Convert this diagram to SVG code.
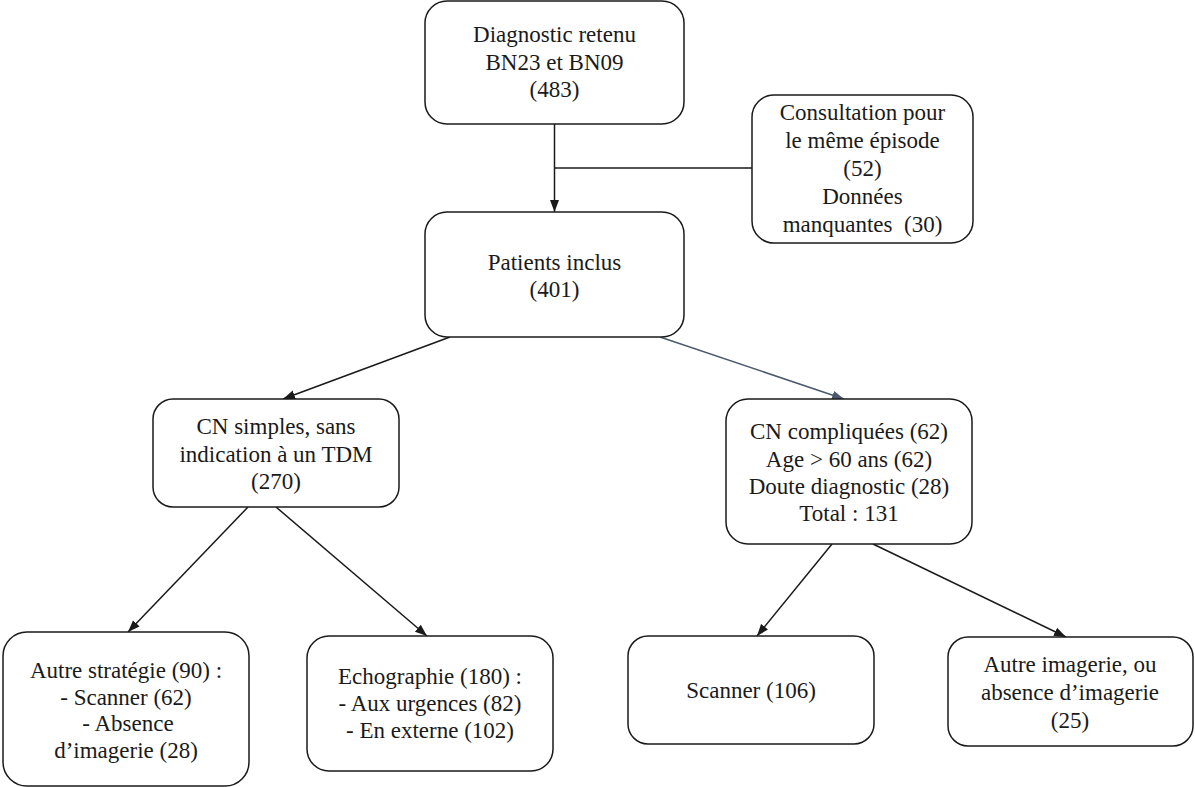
<svg xmlns="http://www.w3.org/2000/svg" width="1195" height="787" viewBox="0 0 1195 787">
<defs>
<style>
.box{fill:#fff;stroke:#1a1a1a;stroke-width:1.5}
.t{font-family:'Liberation Serif','Times New Roman','DejaVu Serif Condensed','DejaVu Serif',serif;font-size:23px;fill:#1a1a1a;text-anchor:middle}
.c{fill:none;stroke:#1a1a1a;stroke-width:1.5}
.cs{fill:none;stroke:#4a5a6e;stroke-width:1.5}
</style>
<marker id="ah" viewBox="0 0 12 10" refX="12" refY="5" markerWidth="12" markerHeight="10" markerUnits="userSpaceOnUse" orient="auto"><path d="M0,0.5 L12,5 L0,9.5 z" fill="#1a1a1a"/></marker>
<marker id="ahs" viewBox="0 0 12 10" refX="12" refY="5" markerWidth="12" markerHeight="10" markerUnits="userSpaceOnUse" orient="auto"><path d="M0,0.5 L12,5 L0,9.5 z" fill="#4a5a6e"/></marker>
</defs>
<rect width="1195" height="787" fill="#fff"/>
<g id="connectors">
<path class="c" d="M554.5,124 L554.5,212" marker-end="url(#ah)"/>
<path class="c" d="M554.5,168 L752,168"/>
<path class="c" d="M450,337 L283,399" marker-end="url(#ah)"/>
<path class="cs" d="M660,337 L844,399" marker-end="url(#ahs)"/>
<path class="c" d="M248,507 L128,632" marker-end="url(#ah)"/>
<path class="c" d="M276,507 L427,636" marker-end="url(#ah)"/>
<path class="c" d="M832,544 L757,636" marker-end="url(#ah)"/>
<path class="c" d="M873,544 L1066,637" marker-end="url(#ah)"/>
</g>
<g id="n1">
<rect class="box" x="425" y="1" width="259" height="123" rx="22"/>
<text class="t" x="554.5" y="42">Diagnostic retenu</text>
<text class="t" x="554.5" y="70">BN23 et BN09</text>
<text class="t" x="554.5" y="97">(483)</text>
</g>
<g id="n2">
<rect class="box" x="752" y="95" width="221" height="148" rx="22"/>
<text class="t" x="862.5" y="120">Consultation pour</text>
<text class="t" x="862.5" y="148">le même épisode</text>
<text class="t" x="862.5" y="176">(52)</text>
<text class="t" x="862.5" y="204">Données</text>
<text class="t" x="862.5" y="232">manquantes&#160; (30)</text>
</g>
<g id="n3">
<rect class="box" x="425" y="212" width="259" height="125" rx="22"/>
<text class="t" x="554.5" y="270">Patients inclus</text>
<text class="t" x="554.5" y="297">(401)</text>
</g>
<g id="n4">
<rect class="box" x="153" y="399" width="246" height="108" rx="20"/>
<text class="t" x="276" y="434">CN simples, sans</text>
<text class="t" x="276" y="462">indication à un TDM</text>
<text class="t" x="276" y="489">(270)</text>
</g>
<g id="n5">
<rect class="box" x="726" y="399" width="246" height="145" rx="22"/>
<text class="t" x="849" y="439">CN compliquées (62)</text>
<text class="t" x="849" y="467">Age &gt; 60 ans (62)</text>
<text class="t" x="849" y="494">Doute diagnostic (28)</text>
<text class="t" x="849" y="521">Total : 131</text>
</g>
<g id="n6">
<rect class="box" x="3" y="632" width="246" height="154" rx="24"/>
<text class="t" x="126" y="678">Autre stratégie (90) :</text>
<text class="t" x="126" y="705">- Scanner (62)</text>
<text class="t" x="128" y="731">- Absence</text>
<text class="t" x="126" y="758">d’imagerie (28)</text>
</g>
<g id="n7">
<rect class="box" x="307" y="636" width="246" height="135" rx="22"/>
<text class="t" x="430" y="684">Echographie (180) :</text>
<text class="t" x="430" y="711">- Aux urgences (82)</text>
<text class="t" x="430" y="738">- En externe (102)</text>
</g>
<g id="n8">
<rect class="box" x="628" y="636" width="246" height="108" rx="20"/>
<text class="t" x="751" y="698">Scanner (106)</text>
</g>
<g id="n9">
<rect class="box" x="948" y="637" width="245" height="109" rx="20"/>
<text class="t" x="1070" y="672">Autre imagerie, ou</text>
<text class="t" x="1070" y="700">absence d’imagerie</text>
<text class="t" x="1070" y="728">(25)</text>
</g>
</svg>
